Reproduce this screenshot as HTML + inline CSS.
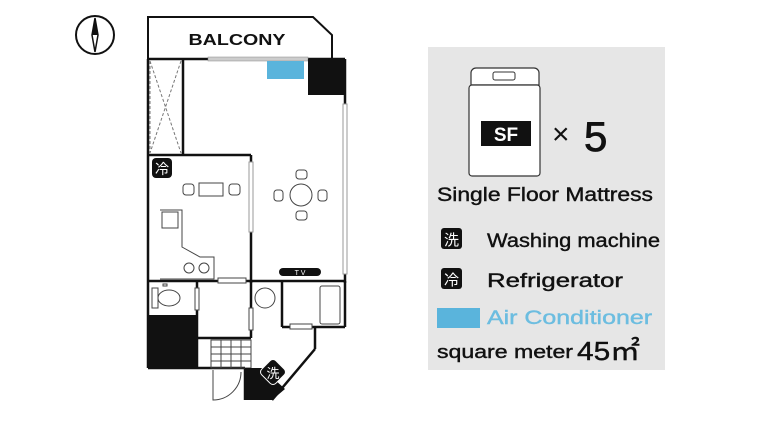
<!DOCTYPE html>
<html><head><style>
body{margin:0;background:#fff;width:768px;height:421px;overflow:hidden;font-family:"Liberation Sans","Noto Sans CJK JP",sans-serif}
</style></head><body>
<svg width="768" height="421" viewBox="0 0 768 421" xmlns="http://www.w3.org/2000/svg" font-family="Liberation Sans, Noto Sans CJK JP, sans-serif">
<circle cx="95" cy="35" r="19" fill="#fff" stroke="#111" stroke-width="2"/>
<polygon points="95,18 98,35 95,52 92,35" fill="#fff" stroke="#111" stroke-width="1.5"/>
<polygon points="95,18 98,35 92,35" fill="#111"/>
<polygon points="148,17 313,17 332,35 332,59 148,59" fill="#fff" stroke="#111" stroke-width="2"/>
<text x="237" y="45" text-anchor="middle" font-size="16" font-weight="bold" fill="#111" textLength="97" lengthAdjust="spacingAndGlyphs">BALCONY</text>
<g stroke="#111" stroke-width="2.5" fill="none">
<line x1="148" y1="59" x2="148" y2="368"/>
<line x1="148" y1="59" x2="345" y2="59"/>
<line x1="345" y1="59" x2="345" y2="283"/>
<line x1="183" y1="59" x2="183" y2="155"/>
<line x1="148" y1="155" x2="251" y2="155"/>
<line x1="251" y1="155" x2="251" y2="283"/>
<line x1="148" y1="281" x2="345" y2="281"/>
<line x1="197" y1="281" x2="197" y2="368"/>
<line x1="148" y1="368" x2="245" y2="368"/>
<line x1="251" y1="281" x2="251" y2="338"/>
<line x1="251" y1="338" x2="197" y2="338"/>
<line x1="282" y1="281" x2="282" y2="327"/>
<line x1="282" y1="327" x2="315" y2="327"/>
<line x1="315" y1="327" x2="345" y2="327"/>
<line x1="345" y1="281" x2="345" y2="327"/>
<line x1="315" y1="327" x2="315" y2="349"/>
<line x1="315" y1="349" x2="272" y2="400"/>
<line x1="245" y1="368" x2="245" y2="400"/>
</g>
<g stroke="#777" stroke-width="1" stroke-dasharray="3,2"><line x1="150" y1="61" x2="181" y2="153"/><line x1="181" y1="61" x2="150" y2="153"/></g>
<line x1="150" y1="61" x2="150" y2="153" stroke="#777" stroke-dasharray="3,2"/>
<rect x="208" y="57" width="100" height="4" fill="#ccc" stroke="#888" stroke-width="0.5"/>
<rect x="267" y="61" width="37" height="18" fill="#5ab4dc"/>
<rect x="308" y="59" width="37" height="36" fill="#111"/>
<rect x="343" y="104" width="4" height="170" fill="#fff" stroke="#999"/>
<rect x="249" y="162" width="4" height="70" fill="#fff" stroke="#999"/>
<rect x="152" y="158" width="20" height="20" rx="4" fill="#111"/>
<text x="162" y="174" text-anchor="middle" font-size="14" fill="#fff">冷</text>
<g stroke="#444" fill="#fff" stroke-width="1">
<rect x="199" y="183" width="24" height="13"/>
<rect x="183" y="184" width="11" height="11" rx="3"/><rect x="229" y="184" width="11" height="11" rx="3"/>
<circle cx="301" cy="195" r="11"/>
<rect x="296" y="170" width="11" height="9" rx="3"/><rect x="296" y="211" width="11" height="9" rx="3"/>
<rect x="274" y="190" width="9" height="11" rx="3"/><rect x="318" y="190" width="9" height="11" rx="3"/>
<polyline points="160,210 182,210 182,247 200,257 214,257 214,279 160,279" fill="none"/>
<rect x="162" y="212" width="16" height="16"/>
<circle cx="189" cy="268" r="5"/><circle cx="204" cy="268" r="5"/>
<ellipse cx="169" cy="298" rx="11" ry="8"/><rect x="152" y="288" width="6" height="20"/>
<circle cx="265" cy="298" r="10"/>
<rect x="320" y="286" width="20" height="38" rx="2"/>
<rect x="163" y="284" width="4" height="2"/>
<rect x="195" y="288" width="4" height="22"/>
<rect x="249" y="308" width="4" height="22"/>
<rect x="218" y="278" width="28" height="5"/>
<rect x="290" y="324" width="22" height="5"/>
</g>
<rect x="148" y="315" width="49" height="53" fill="#111"/>
<rect x="279" y="268" width="42" height="8" rx="4" fill="#111"/>
<text x="300" y="275" text-anchor="middle" font-size="7" fill="#fff">T V</text>
<g stroke="#444" stroke-width="1" fill="none">
<rect x="211" y="340" width="40" height="28"/>
<line x1="221" y1="340" x2="221" y2="368"/><line x1="231" y1="340" x2="231" y2="368"/><line x1="241" y1="340" x2="241" y2="368"/>
<line x1="211" y1="347" x2="251" y2="347"/><line x1="211" y1="354" x2="251" y2="354"/><line x1="211" y1="361" x2="251" y2="361"/>
<path d="M213,370 L213,400 A28,28 0 0 0 241,372" />
</g>
<polygon points="245,368 262,368 285,389 272,400 245,400" fill="#111"/>
<rect x="263" y="362" width="20" height="20" rx="4" fill="#111" stroke="#fff" transform="rotate(-45 273 372)"/>
<text x="273" y="378" text-anchor="middle" font-size="13" fill="#fff">洗</text>
<rect x="428" y="47" width="237" height="323" fill="#e6e6e6"/>
<path d="M476,68 h58 a5,5 0 0 1 5,5 v12 h-68 v-12 a5,5 0 0 1 5,-5z" fill="#fff" stroke="#333" stroke-width="1.2"/>
<rect x="493" y="72" width="22" height="8" rx="2" fill="#fff" stroke="#333"/>
<rect x="469" y="85" width="71" height="91" rx="3" fill="#fff" stroke="#333" stroke-width="1.2"/>
<rect x="481" y="121" width="50" height="25" fill="#111"/>
<text x="506" y="141" text-anchor="middle" font-size="19" font-weight="bold" fill="#fff">SF</text>
<text x="552" y="144" font-size="30" fill="#111">×</text>
<text x="584" y="151" font-size="42" fill="#111" stroke="#111" stroke-width="0.8">5</text>
<g fill="#111" stroke="#111" stroke-width="0.4">
<text x="437" y="201" font-size="19" textLength="216" lengthAdjust="spacingAndGlyphs">Single Floor Mattress</text>
<text x="487" y="247" font-size="19" textLength="173" lengthAdjust="spacingAndGlyphs">Washing machine</text>
<text x="487" y="287" font-size="19" textLength="136" lengthAdjust="spacingAndGlyphs">Refrigerator</text>
<text x="437" y="358" font-size="18" textLength="136" lengthAdjust="spacingAndGlyphs">square meter</text>
<text x="577" y="360" font-size="26" textLength="63" lengthAdjust="spacingAndGlyphs">45㎡</text>
</g>
<rect x="441" y="228" width="21" height="21" rx="3" fill="#111"/>
<text x="451.5" y="245" text-anchor="middle" font-size="15" fill="#fff">洗</text>
<rect x="441" y="268" width="21" height="21" rx="3" fill="#111"/>
<text x="451.5" y="285" text-anchor="middle" font-size="15" fill="#fff">冷</text>
<rect x="437" y="308" width="43" height="20" fill="#5ab4dc"/>
<text x="487" y="324" font-size="19" fill="#6cbde0" stroke="#6cbde0" stroke-width="0.4" textLength="165" lengthAdjust="spacingAndGlyphs">Air Conditioner</text>
</svg>
</body></html>
